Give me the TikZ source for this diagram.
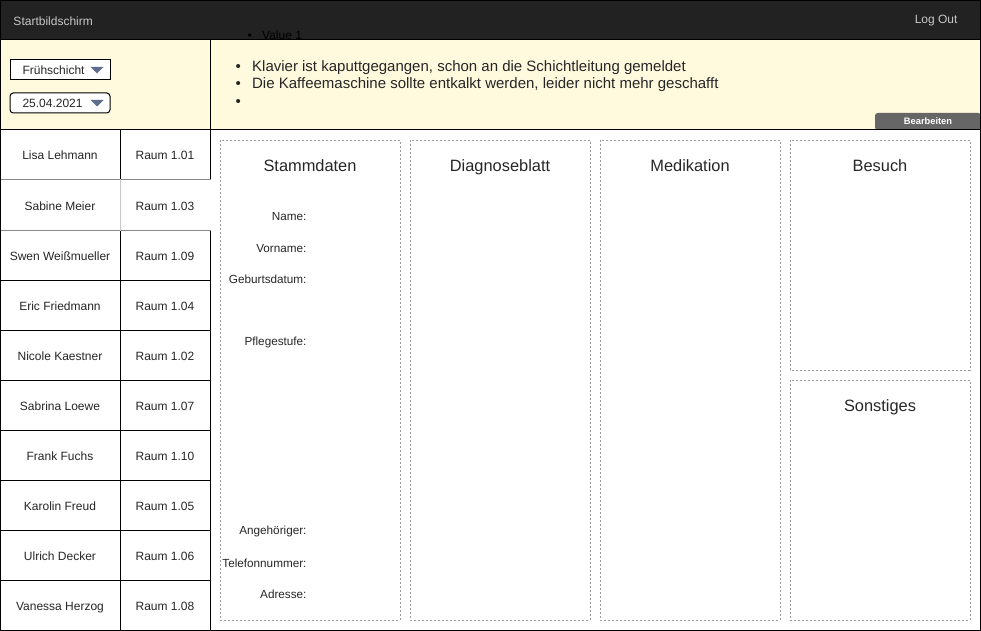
\documentclass[tikz,border=0pt]{standalone}
\usepackage{fontspec}
\setmainfont{Liberation Sans}
\usepackage{xcolor}
\usetikzlibrary{positioning,calc}
\definecolor{BarDark}{HTML}{222222}
\definecolor{NoteYellow}{HTML}{FFF9DE}
\definecolor{PanelGray}{HTML}{9A9A9A}
\definecolor{ArrowBlue}{HTML}{5D6D8E}
\definecolor{BtnGray}{HTML}{666666}
\definecolor{SelGray}{HTML}{888888}
\definecolor{SelLight}{HTML}{C8C8C8}
\definecolor{TextDark}{HTML}{262626}
\tikzset{
    cell/.style={draw=black, fill=white, minimum height=37.5pt, inner sep=0pt, text height=9.4pt, text depth=1.9pt, font=\fontsize{9}{11}\selectfont, text=TextDark},
    namecell/.style={cell, minimum width=90pt},
    roomcell/.style={cell, minimum width=67.5pt},
    plainrow/.style={},
    selrow/.style={draw=none},
    selline/.style={draw=SelGray}
}

\begin{document}
\begin{tikzpicture}[
        x=0.75pt, y=-0.75pt, line width=0.75pt,
        % Style for the panels: dotted gray frames
        panel/.style={
            draw=PanelGray,
            line width=0.6pt,
            dash pattern=on 1.5pt off 1.5pt
        },
        paneltitle/.style={font=\fontsize{12.3}{14}\selectfont, text=TextDark, inner sep=0pt, text height=9pt, text depth=2.6pt},
        fieldlabel/.style={font=\fontsize{8.8}{10}\selectfont, text=TextDark, inner sep=0pt, anchor=east},
        note/.style={font=\fontsize{11.25}{13}\selectfont, text=TextDark, inner sep=0pt, anchor=west},
        barlabel/.style={font=\fontsize{9}{11}\selectfont, text=black!22, inner sep=0pt},
        dropbox/.style={draw=black, fill=white, minimum width=75pt, minimum height=15pt, inner sep=0pt},
        droptext/.style={font=\fontsize{9}{11}\selectfont, text=TextDark, inner sep=0pt, anchor=west},
        btn/.style={fill=BtnGray, rounded corners=2pt, minimum width=79.5pt, minimum height=12.75pt, inner sep=0pt, text=white, font=\bfseries\fontsize{7}{8}\selectfont}
    ]
    \useasboundingbox (0,0) rectangle (981,631);

    % --- TOP BAR ---
    \fill[BarDark] (0,0) rectangle (981,40);
    \node[barlabel, anchor=west] (home) at (13,21) {Startbildschirm};
    \node[barlabel, anchor=east] (logout) at (958,21) {Log Out};

    % --- NOTE BAND ---
    \fill[NoteYellow] (0,40) rectangle (981,130);
    \node[note, font=\fontsize{9}{11}\selectfont, text=black] (value) at (247,35.5) {\makebox[11pt][l]{\textbullet}Value 1};
    \node[note] (item1) at (235,67.5) {\makebox[12.5pt][l]{\textbullet}Klavier ist kaputtgegangen, schon an die Schichtleitung gemeldet};
    \node[note] (item2) at (235,85) {\makebox[12.5pt][l]{\textbullet}Die Kaffeemaschine sollte entkalkt werden, leider nicht mehr geschafft};
    \node[note] (item3) at (235,102.5) {\makebox[12.5pt][l]{\textbullet}};
    \node[btn] (edit) at (928,121.5) {Bearbeiten};

    % Dropdowns
    \node[dropbox] (shift) at (60,70) {};
    \node[droptext] (shiftlbl) at (22,70.5) {Frühschicht};
    \fill[ArrowBlue] ($(shift.east)+(-20,-3)$) -- ++(13,0) -- ++(-6.5,6.5) -- cycle;
    \node[dropbox, rounded corners=2.5pt] (date) at (60,103) {};
    \node[droptext] (datelbl) at (22,103.5) {25.04.2021};
    \fill[ArrowBlue] ($(date.east)+(-20,-3)$) -- ++(13,0) -- ++(-6.5,6.5) -- cycle;

    \draw (0,40) -- (981,40);
    \draw (0,130) -- (981,130);
    \draw (210,40) -- (210,130);

    % --- RESIDENT LIST ---
    \foreach \pname/\room/\st [count=\i from 0] in {
        Lisa Lehmann/Raum 1.01/plainrow,
        Sabine Meier/Raum 1.03/selrow,
        Swen Weißmueller/Raum 1.09/plainrow,
        Eric Friedmann/Raum 1.04/plainrow,
        Nicole Kaestner/Raum 1.02/plainrow,
        Sabrina Loewe/Raum 1.07/plainrow,
        Frank Fuchs/Raum 1.10/plainrow,
        Karolin Freud/Raum 1.05/plainrow,
        Ulrich Decker/Raum 1.06/plainrow,
        Vanessa Herzog/Raum 1.08/plainrow}
    {
        \node[namecell, \st] (name\i) at (60,{155+50*\i}) {\pname};
        \node[roomcell, \st] (room\i) at (165,{155+50*\i}) {\room};
    }
    % selected row: open to the right
    \draw[selline] (room1.north east) -- (name1.north west) -- (name1.south west) -- (room1.south east);
    \draw[selline, draw=SelLight] (name1.north east) -- (name1.south east);

    % --- PANELS ---
    \draw[panel] (220,140) rectangle (400,620);
    \draw[panel] (410,140) rectangle (590,620);
    \draw[panel] (600,140) rectangle (780,620);
    \draw[panel] (790,140) rectangle (970,370);
    \draw[panel] (790,380) rectangle (970,620);

    \node[paneltitle] (stamm) at (310,167.5) {Stammdaten};
    \node[paneltitle] (diag) at (500,167.5) {Diagnoseblatt};
    \node[paneltitle] (medi) at (690,167.5) {Medikation};
    \node[paneltitle] (visit) at (880,167.5) {Besuch};
    \node[paneltitle] (misc) at (880,407.5) {Sonstiges};

    \foreach \lbl/\y [count=\j] in {Name:/216.5, Vorname:/248.5, Geburtsdatum:/279.5, Pflegestufe:/342.5,
        Angehöriger:/531.5, Telefonnummer:/563.5, Adresse:/594.5}
        \node[fieldlabel] (field\j) at (307,\y) {\lbl};

    % outer frame
    \draw (0.4,0.4) rectangle (980.6,630.6);
\end{tikzpicture}
\end{document}
